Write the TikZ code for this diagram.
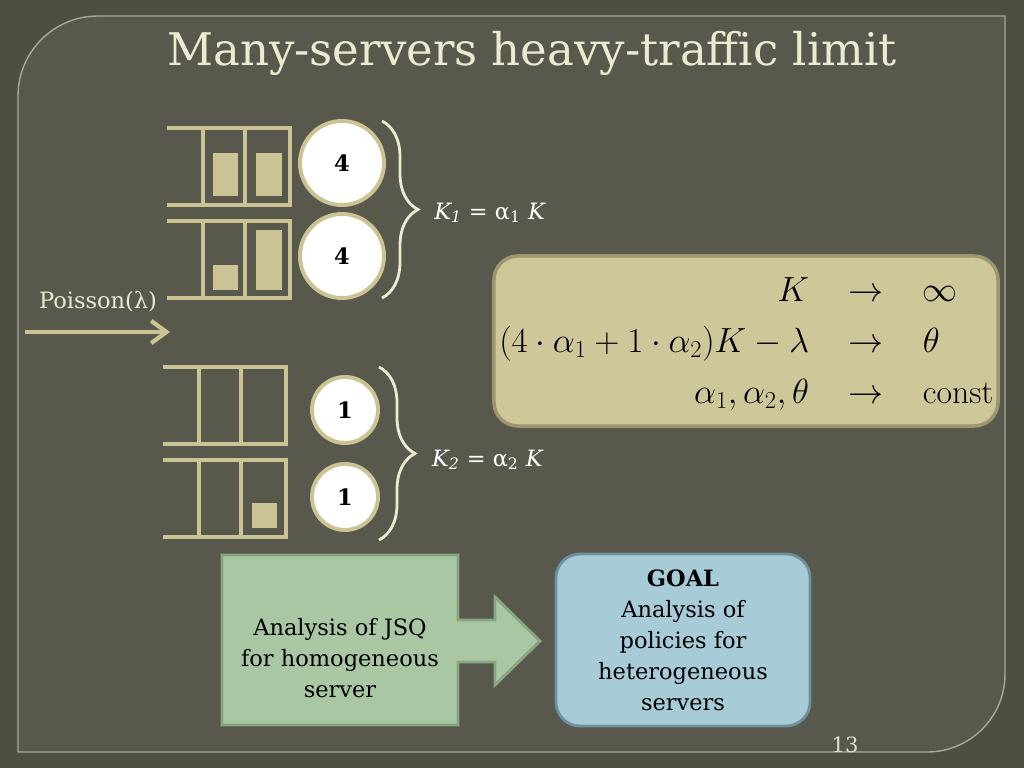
\documentclass[tikz,border=0pt]{standalone}
\usepackage{fontspec}
\usepackage{tikz}
\usetikzlibrary{positioning,arrows.meta,calc}
\usetikzlibrary{decorations.pathreplacing}
\newfontfamily\slab{DejaVu Serif}

\definecolor{slidebg}{RGB}{78,79,66}
\definecolor{panel}{RGB}{88,89,76}
\definecolor{frameline}{RGB}{168,170,152}
\definecolor{tan}{RGB}{204,195,148}
\definecolor{mathfill}{RGB}{206,199,154}
\definecolor{mathline}{RGB}{158,150,110}
\definecolor{sage}{RGB}{170,199,164}
\definecolor{sageline}{RGB}{136,166,130}
\definecolor{skyfill}{RGB}{167,203,215}
\definecolor{skyline}{RGB}{108,146,160}
\definecolor{cream}{RGB}{236,234,208}
\definecolor{pagegray}{RGB}{222,222,210}

\tikzset{
  queueline/.style={draw=tan, line width=3.2pt},
  job/.style={fill=tan},
  queue/.pic={
    \draw[queueline] (0,0) -- (123,0) -- (123,77) -- (0,77);
    \draw[queueline] (36,0) -- (36,77) (78,0) -- (78,77);
  },
  server/.style={circle, draw=tan, fill=white, line width=2.8pt, inner sep=0pt,
    font=\slab\bfseries\fontsize{16}{18}\selectfont},
  bigserver/.style={server, minimum size=2.1cm},
  smallserver/.style={server, minimum size=1.65cm},
  group/.style={draw=cream, line width=2pt, decorate,
    decoration={brace, amplitude=0.9cm, aspect=0.5}},
  klabel/.style={text=white, font=\slab\fontsize{16}{18}\selectfont, inner sep=0pt},
  arrival/.style={draw=tan, line width=3pt,
    -{Straight Barb[length=3.8mm, width=5.6mm, line width=3pt]}},
  mathbox/.style={rounded corners=0.6cm, fill=mathfill, draw=mathline, line width=2.5pt,
    minimum width=12.6cm, minimum height=4.25cm},
  callout/.style={fill=sage, draw=sageline, line width=2pt},
  goalbox/.style={rounded corners=0.6cm, fill=skyfill, draw=skyline, line width=2pt,
    minimum width=6.35cm, minimum height=4.3cm, align=center},
  bodytext/.style={align=center, font=\slab\fontsize{16}{22}\selectfont},
  title/.style={text=cream, font=\slab\fontsize{32}{38}\selectfont}
}

\begin{document}
\begin{tikzpicture}[x=0.025cm,y=-0.025cm]
  \useasboundingbox (0,0) rectangle (1024,768);
  \fill[slidebg] (0,0) rectangle (1024,768);
  % slide frame
  \filldraw[fill=panel, draw=frameline, line width=1pt]
    (18,752) -- (18,96) .. controls (18,51.8) and (53.8,16) .. (98,16)
    -- (1005,16) -- (1005,674) .. controls (1005,717.1) and (970.1,752) .. (927,752)
    -- cycle;

  \node[title] (title) at (532,53) {Many-servers heavy-traffic limit};

  % queues
  \coordinate (qa) at (167,128);
  \coordinate (qb) at (167,221);
  \coordinate (qc) at (163,367);
  \coordinate (qd) at (163,460);
  \pic at (qa) {queue};
  \pic at (qb) {queue};
  \pic at (qc) {queue};
  \pic at (qd) {queue};
  \fill[job] ([shift={(46,25)}]qa) rectangle ++(25,43);
  \fill[job] ([shift={(89,25)}]qa) rectangle ++(26,43);
  \fill[job] ([shift={(46,44)}]qb) rectangle ++(25,25);
  \fill[job] ([shift={(89,9)}]qb) rectangle ++(26,60);
  \fill[job] ([shift={(89,43)}]qd) rectangle ++(25,25);

  % servers
  \node[bigserver] (s1) at (342,163) {4};
  \node[bigserver] (s2) at (342,256) {4};
  \node[smallserver] (s3) at (345,410) {1};
  \node[smallserver] (s4) at (345,497) {1};

  % groups
  \coordinate (g1top) at (382,121);
  \coordinate (g1bot) at (382,298);
  \coordinate (g2top) at (379,367);
  \coordinate (g2bot) at (379,540);
  \draw[group] (g1top) -- (g1bot);
  \draw[group] (g2top) -- (g2bot);
  \coordinate (g1tip) at (418,210);
  \coordinate (g2tip) at (415,454);
  \node[klabel, right=4mm of g1tip, yshift=-2pt]
    (k1) {\itshape K\textsubscript{1} \upshape = α\textsubscript{1} \itshape K};
  \node[klabel, right=4.2mm of g2tip, yshift=-4pt]
    (k2) {\itshape K\textsubscript{2} \upshape = α\textsubscript{2} \itshape K};

  % arrivals
  \coordinate (src) at (25,332);
  \coordinate (dst) at (170,332);
  \draw[arrival] (src) -- (dst);
  \node[klabel, text=cream] (poisson) at (98,302) {Poisson(λ)};

  % limit regime
  \node[mathbox] (limitbox) at (746,341) {};
  \node[anchor=west, inner sep=0pt] (limits) at (499,342) {\fontsize{24}{28}\selectfont
    $\renewcommand\arraystretch{1.3}
    \begin{array}{@{}r@{\hspace{28pt}}c@{\hspace{28pt}}l@{}}
      K & \to & \infty \\
      (4\cdot\alpha_1+1\cdot\alpha_2)K-\lambda & \to & \theta \\
      \alpha_1,\alpha_2,\theta & \to & \mathrm{const}
    \end{array}$};

  % from homogeneous to heterogeneous
  \filldraw[callout] (222,555) -- (458,555) -- (458,620) -- (495,620) -- (495,597)
    -- (540,641) -- (495,685) -- (495,662) -- (458,662) -- (458,725) -- (222,725) -- cycle;
  \node[bodytext] (jsq) at (340,658) {Analysis of JSQ\\for homogeneous\\server};
  \node[goalbox, bodytext] (goal) at (683,640)
    {\bfseries GOAL\\Analysis of\\policies for\\heterogeneous\\servers};

  \node[text=pagegray, font=\slab\fontsize{15}{17}\selectfont] (pagenum) at (845,745) {13};
\end{tikzpicture}
\end{document}
